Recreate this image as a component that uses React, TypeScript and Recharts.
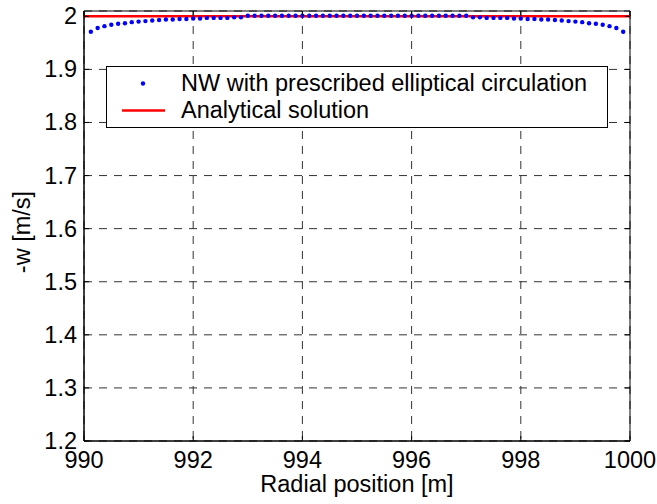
import React from 'react';
import { ComposedChart, Scatter, Line, XAxis, YAxis, CartesianGrid, ReferenceArea } from 'recharts';

// radial positions of the NW control points [m]
const radialPos = [
  990.125, 990.25, 990.375, 990.5, 990.625, 990.75, 990.875, 991.0, 991.125, 991.25,
  991.375, 991.5, 991.625, 991.75, 991.875, 992.0, 992.125, 992.25, 992.375, 992.5,
  992.625, 992.75, 992.875, 993.0, 993.125, 993.25, 993.375, 993.5, 993.625, 993.75,
  993.875, 994.0, 994.125, 994.25, 994.375, 994.5, 994.625, 994.75, 994.875, 995.0,
  995.125, 995.25, 995.375, 995.5, 995.625, 995.75, 995.875, 996.0, 996.125, 996.25,
  996.375, 996.5, 996.625, 996.75, 996.875, 997.0, 997.125, 997.25, 997.375, 997.5,
  997.625, 997.75, 997.875, 998.0, 998.125, 998.25, 998.375, 998.5, 998.625, 998.75,
  998.875, 999.0, 999.125, 999.25, 999.375, 999.5, 999.625, 999.75, 999.875,
];

// -w from the NW model [m/s]
const nwValues = [
  1.971, 1.978, 1.9815, 1.984, 1.986, 1.987, 1.989, 1.990, 1.991, 1.992,
  1.993, 1.994, 1.994, 1.995, 1.995, 1.996, 1.996, 1.997, 1.997, 1.997,
  1.997, 1.998, 1.998, 2.001, 2.001, 2.001, 2.001, 2.001, 2.001, 2.001,
  2.001, 2.001, 2.001, 2.001, 2.001, 2.001, 2.001, 2.001, 2.001, 2.001,
  2.001, 2.001, 2.001, 2.001, 2.001, 2.001, 2.001, 2.001, 2.001, 2.001,
  2.001, 2.001, 2.001, 2.001, 2.001, 2.001, 1.998, 1.998, 1.997, 1.997,
  1.997, 1.997, 1.996, 1.996, 1.995, 1.995, 1.994, 1.994, 1.993, 1.992,
  1.991, 1.990, 1.989, 1.987, 1.986, 1.984, 1.9815, 1.978, 1.971,
];

const analyticalX = [990, 1000];
const analyticalW = [2, 2];

const xTicks = [990, 992, 994, 996, 998, 1000];
const yTicks = [1.2, 1.3, 1.4, 1.5, 1.6, 1.7, 1.8, 1.9, 2.0];

const nwData = radialPos.map((x, i) => ({ x, w: nwValues[i] }));
const analyticalData = analyticalX.map((x, i) => ({ x, w: analyticalW[i] }));

const FONT = '"Liberation Sans", Arial, Helvetica, sans-serif';
const FS = 23.5;
const W = 657;
const H = 504;
const M = { top: 11, right: 27, bottom: 0, left: 0 };
const Y_AXIS_W = 84;
const X_AXIS_H = 63;
const PLOT_TOP = M.top;
const PLOT_RIGHT = W - M.right;

const XTick = ({ x, y, payload }: any) => (
  <g>
    <line x1={x} y1={y} x2={x} y2={y - 5} stroke="#000" />
    <line x1={x} y1={PLOT_TOP} x2={x} y2={PLOT_TOP + 5} stroke="#000" />
    <text x={x} y={y + 27} textAnchor="middle" fontFamily={FONT} fontSize={FS} fill="#000">
      {payload.value}
    </text>
  </g>
);

const YTick = ({ x, y, payload }: any) => (
  <g>
    <line x1={x} y1={y} x2={x + 5} y2={y} stroke="#000" />
    <line x1={PLOT_RIGHT} y1={y} x2={PLOT_RIGHT - 5} y2={y} stroke="#000" />
    <text x={x - 7} y={y + 8} textAnchor="end" fontFamily={FONT} fontSize={FS} fill="#000">
      {String(Number(payload.value.toFixed(1)))}
    </text>
  </g>
);

const YLabel = ({ viewBox }: any) => {
  const cx = viewBox.x + 30;
  const cy = viewBox.y + viewBox.height / 2 + 6;
  return (
    <text x={cx} y={cy} transform={`rotate(-90 ${cx} ${cy})`} textAnchor="middle" fontFamily={FONT} fontSize={FS} fill="#000">
      -w [m/s]
    </text>
  );
};

// legend drawn as an overlay box, like MATLAB's inset legend
const LegendBox = () => (
  <div
    style={{
      position: 'absolute',
      left: 106,
      top: 66,
      width: 500,
      border: '1px solid #000',
      background: '#fff',
      padding: '3px 0',
      fontFamily: FONT,
      fontSize: FS,
      lineHeight: '27px',
      color: '#000',
    }}
  >
    <div style={{ display: 'flex', alignItems: 'center', height: 27 }}>
      <svg width={74} height={27}>
        <circle cx={36} cy={13.5} r={2.2} fill="#0000ff" />
      </svg>
      <span>NW with prescribed elliptical circulation</span>
    </div>
    <div style={{ display: 'flex', alignItems: 'center', height: 27 }}>
      <svg width={74} height={27}>
        <line x1={15} y1={13.5} x2={58} y2={13.5} stroke="#ff0000" strokeWidth={2.5} />
      </svg>
      <span>Analytical solution</span>
    </div>
  </div>
);

export default function App() {
  return (
    <div style={{ position: 'absolute', left: 0, top: 0, width: W, height: H, background: '#fff' }}>
      <ComposedChart width={W} height={H} margin={M}>
        <CartesianGrid stroke="#333" strokeDasharray="8 7" />
        <XAxis
          dataKey="x"
          type="number"
          domain={[990, 1000]}
          ticks={xTicks}
          interval={0}
          height={X_AXIS_H}
          tickSize={0}
          tickMargin={0}
          tick={<XTick />}
          axisLine={{ stroke: '#000' }}
          label={{ value: 'Radial position [m]', position: 'insideBottom', offset: 12, fontFamily: FONT, fontSize: FS, fill: '#000' }}
        />
        <YAxis
          type="number"
          domain={[1.2, 2.01]}
          ticks={yTicks}
          interval={0}
          width={Y_AXIS_W}
          tickSize={0}
          tickMargin={0}
          tick={<YTick />}
          axisLine={{ stroke: '#000' }}
          allowDataOverflow
          label={(props: any) => <YLabel {...props} />}
        />
        <ReferenceArea x1={990} x2={1000} y1={1.2} y2={2.01} fill="none" stroke="#000" strokeOpacity={1} ifOverflow="visible" />
        <Line
          data={analyticalData}
          dataKey="w"
          stroke="#ff0000"
          strokeWidth={2.5}
          dot={false}
          activeDot={false}
          isAnimationActive={false}
        />
        <Scatter
          data={nwData}
          dataKey="w"
          fill="#0000ff"
          isAnimationActive={false}
          shape={(p: any) => <circle cx={p.cx} cy={p.cy} r={2.2} fill="#0000ff" />}
        />
      </ComposedChart>
      <LegendBox />
    </div>
  );
}
